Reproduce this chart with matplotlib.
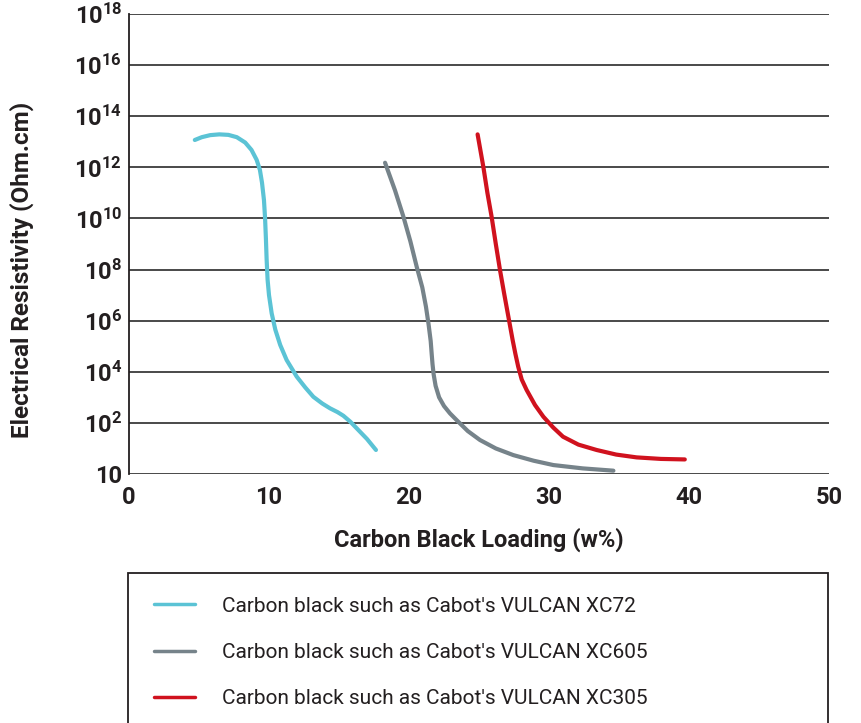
import matplotlib.pyplot as plt
from matplotlib.patches import Rectangle

# loading (w%) vs resistivity exponent (grid position: 0 = "10", 18 = 10^18)
xc72_x = [4.7, 5.2, 5.8, 6.45, 7.1, 7.7, 8.3, 8.75, 9.12, 9.35, 9.5, 9.64, 9.72, 9.78, 9.83, 9.9, 10.0, 10.19, 10.45, 10.8, 11.26, 11.98, 12.6, 13.17, 13.8, 14.36, 14.9, 15.31, 15.8, 16.26, 17.0, 17.64]
xc72_y = [13.07, 13.18, 13.26, 13.29, 13.27, 13.18, 12.97, 12.68, 12.29, 11.9, 11.4, 10.72, 10.0, 9.2, 8.4, 7.6, 7.0, 6.29, 5.65, 5.05, 4.46, 3.81, 3.38, 3.02, 2.76, 2.57, 2.42, 2.28, 2.05, 1.79, 1.37, 0.94]

xc605_x = [18.29, 19.0, 19.6, 20.1, 20.55, 20.95, 21.21, 21.4, 21.55, 21.62, 21.68, 21.76, 21.9, 22.15, 22.5, 22.93, 23.4, 24.2, 25.07, 26.2, 27.45, 28.9, 30.31, 32.4, 34.6]
xc605_y = [12.18, 11.1, 10.07, 9.1, 8.11, 7.3, 6.55, 5.85, 5.2, 4.7, 4.3, 3.9, 3.45, 3.0, 2.66, 2.37, 2.11, 1.68, 1.33, 1.0, 0.74, 0.52, 0.35, 0.22, 0.13]

xc305_x = [24.9, 25.31, 25.6, 25.9, 26.2, 26.5, 26.8, 27.1, 27.4, 27.6, 27.8, 28.05, 28.4, 29.0, 29.6, 30.3, 31.0, 32.1, 33.4, 34.8, 36.26, 38.0, 39.7]
xc305_y = [13.29, 12.02, 11.0, 10.07, 9.0, 7.98, 7.05, 6.15, 5.25, 4.7, 4.2, 3.7, 3.29, 2.7, 2.24, 1.82, 1.46, 1.15, 0.94, 0.76, 0.65, 0.59, 0.57]

series_labels = ["Carbon black such as Cabot's VULCAN XC72",
                 "Carbon black such as Cabot's VULCAN XC605",
                 "Carbon black such as Cabot's VULCAN XC305"]
colors = ["#5BC3D5", "#76838A", "#D0121E"]

x_ticks = [0, 10, 20, 30, 40, 50]
y_ticks = [0, 2, 4, 6, 8, 10, 12, 14, 16, 18]
y_ticklabels = ["10"] + [r"$\mathbf{10^{%d}}$" % e for e in y_ticks[1:]]

plt.rcParams['font.family'] = ['Roboto', 'DejaVu Sans']
plt.rcParams['mathtext.fontset'] = 'custom'
plt.rcParams['mathtext.bf'] = 'Roboto:bold'
plt.rcParams['mathtext.rm'] = 'Roboto'

fig = plt.figure(figsize=(8.62, 7.23), dpi=100)
ax = fig.add_axes([129/862, 1-474/723, 700/862, 460/723])

for xs, ys, c, lab in zip([xc72_x, xc605_x, xc305_x], [xc72_y, xc605_y, xc305_y], colors, series_labels):
    ax.plot(xs, ys, color=c, lw=3, label=lab, solid_capstyle='round', solid_joinstyle='round', zorder=3)

ax.set_xlim(0, 50)
ax.set_ylim(0, 18)
ax.set_xticks(x_ticks)
ax.set_xticklabels([str(v) for v in x_ticks], fontsize=17, fontweight='bold', color='#231F20')
ax.set_yticks(y_ticks)
ax.set_yticklabels(y_ticklabels, fontsize=17, fontweight='bold', color='#231F20')
ax.tick_params(axis='x', length=0, pad=9)
ax.tick_params(axis='y', length=0, pad=5)
ax.grid(axis='y', color='#3A3A3A', lw=1.3, zorder=1)
for s in ['top', 'right', 'bottom']:
    ax.spines[s].set_visible(False)
ax.spines['left'].set_color('#231F20')
ax.spines['left'].set_linewidth(1.3)

ax.set_xlabel("Carbon Black Loading (w%)", fontsize=17, fontweight='bold', color='#231F20', labelpad=13)
fig.text(22/862, 1-270/723, "Electrical Resistivity (Ohm.cm)", rotation=90, fontsize=17.5,
         fontweight='bold', color='#231F20', ha='center', va='center')

# legend box, open at the bottom edge of the figure
fig.patches.append(Rectangle((128/862, -0.05), 700/862, 0.05 + 1-573/723, transform=fig.transFigure,
                             fill=False, edgecolor='#231F20', lw=1.3))
handles, labels = ax.get_legend_handles_labels()
leg = fig.legend(handles, labels, loc='upper left', bbox_to_anchor=(135/862, 1-578/723), frameon=False,
                 handlelength=2.0, handletextpad=1.27, labelspacing=1.3,
                 prop={'family': 'Roboto', 'size': 15}, labelcolor='#231F20')
for h in leg.legend_handles:
    h.set_linewidth(2.5)

fig.savefig("out.png", dpi=100)
